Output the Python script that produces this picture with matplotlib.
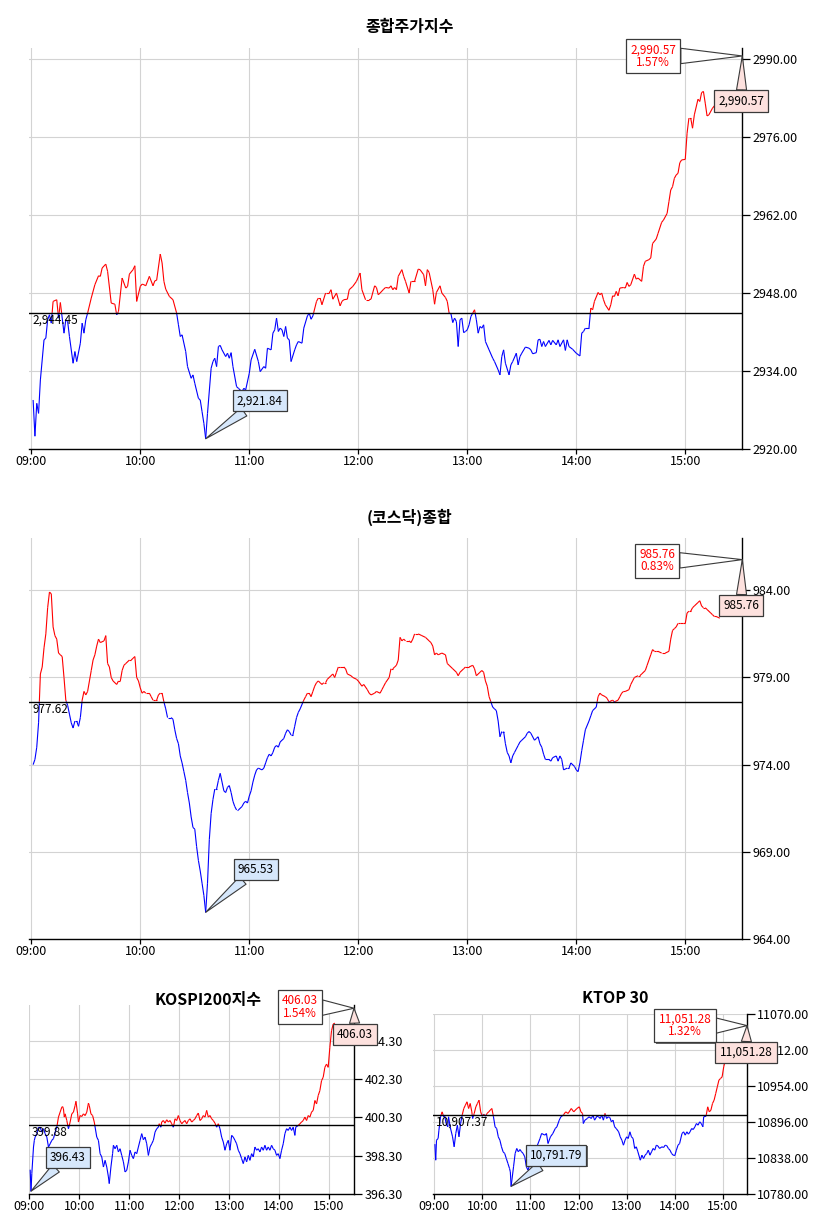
import matplotlib
matplotlib.use('Agg')
import matplotlib.pyplot as plt
import matplotlib.patheffects as pe
from matplotlib.collections import LineCollection

plt.rcParams['font.family'] = ['Noto Sans CJK KR', 'DejaVu Sans']

# ---- data (minutes after 09:00, index value) ----
hour_ticks = [0, 60, 120, 180, 240, 300, 360]
hour_labels = ['09:00', '10:00', '11:00', '12:00', '13:00', '14:00', '15:00']

kospi_name = '종합주가지수'
kospi_prev = 2944.45
kospi_close = 2990.57
kospi_yticks = [2920, 2934, 2948, 2962, 2976, 2990]
kospi_pts = [
    (1, 2928.8), (2, 2922.3), (3, 2928.2), (4, 2926.4), (5, 2932.4), (7, 2939.6), (8, 2939.9),
    (9, 2943.2), (10, 2944.1), (11, 2942.6), (12, 2946.5), (14, 2946.8), (15, 2943.5), (16, 2946.3),
    (18, 2940.8), (19, 2943.2), (20, 2942.9), (21, 2940.2), (23, 2935.4), (24, 2937.5), (25, 2935.7),
    (27, 2939.0), (28, 2942.6), (29, 2940.8), (30, 2943.2), (31, 2944.4), (33, 2947.1), (35, 2949.5),
    (37, 2951.1), (38, 2951.0), (39, 2952.5), (41, 2953.2), (42, 2951.9), (44, 2946.2), (46, 2946.0),
    (47, 2944.1), (48, 2944.7), (50, 2950.7), (52, 2948.9), (53, 2949.2), (54, 2951.4), (56, 2952.2),
    (57, 2952.9), (58, 2946.5), (60, 2949.2), (61, 2949.6), (62, 2949.5), (63, 2949.3), (65, 2951.0),
    (67, 2949.3), (68, 2950.2), (69, 2950.3), (71, 2955.0), (72, 2953.4), (73, 2950.1), (74, 2948.7),
    (76, 2947.4), (78, 2946.8), (80, 2944.4), (81, 2942.3), (82, 2940.2), (83, 2940.5), (85, 2937.5),
    (86, 2934.8), (88, 2932.7), (89, 2933.3), (90, 2931.8), (92, 2929.1), (93, 2928.8), (94, 2926.7),
    (95, 2924.6), (96, 2921.84), (97, 2926.4), (99, 2934.5), (100, 2935.7), (101, 2936.3), (102, 2934.8),
    (103, 2938.4), (104, 2938.6), (105, 2937.8), (107, 2936.6), (108, 2937.2), (109, 2936.3), (110, 2937.3),
    (111, 2934.8), (113, 2931.2), (114, 2930.9), (116, 2930.3), (117, 2930.9), (118, 2930.6), (120, 2933.6),
    (121, 2936.0), (123, 2937.9), (125, 2935.7), (126, 2933.9), (128, 2934.8), (129, 2934.5), (130, 2938.1),
    (132, 2937.8), (133, 2940.8), (134, 2941.4), (135, 2943.5), (136, 2941.1), (137, 2941.7), (138, 2941.4),
    (139, 2940.2), (140, 2942.0), (141, 2939.9), (142, 2939.6), (143, 2935.7), (145, 2937.8), (146, 2938.7),
    (147, 2939.3), (149, 2939.0), (150, 2941.7), (152, 2943.9), (153, 2944.4), (154, 2943.3), (155, 2943.9),
    (157, 2946.5), (158, 2947.1), (159, 2947.1), (160, 2945.9), (162, 2948.0), (164, 2948.0), (165, 2948.6),
    (166, 2946.9), (168, 2948.0), (170, 2945.7), (171, 2946.5), (172, 2946.8), (174, 2946.9), (175, 2948.6),
    (177, 2949.2), (179, 2950.1), (181, 2951.6), (182, 2948.6), (184, 2946.8), (186, 2946.8), (187, 2946.9),
    (189, 2949.3), (190, 2949.0), (191, 2947.7), (192, 2948.0), (194, 2948.7), (195, 2949.0), (197, 2948.9),
    (198, 2949.3), (199, 2948.6), (200, 2949.0), (201, 2948.6), (202, 2951.0), (204, 2952.2), (205, 2951.0),
    (206, 2950.1), (208, 2948.0), (209, 2950.1), (211, 2950.1), (213, 2952.3), (214, 2952.2), (216, 2951.3),
    (217, 2949.3), (218, 2952.2), (219, 2951.7), (221, 2948.6), (222, 2946.0), (223, 2948.1), (225, 2949.3),
    (226, 2948.0), (228, 2947.2), (229, 2946.5), (230, 2944.4), (231, 2944.3), (232, 2942.7), (233, 2943.5),
    (234, 2942.9), (235, 2938.4), (236, 2943.2), (237, 2943.5), (238, 2940.9), (239, 2941.1), (240, 2941.4),
    (241, 2942.3), (242, 2943.8), (243, 2944.4), (244, 2945.0), (245, 2943.2), (246, 2940.8), (247, 2942.0),
    (248, 2941.7), (249, 2942.3), (250, 2939.3), (252, 2937.8), (254, 2936.3), (255, 2935.7), (257, 2934.2),
    (258, 2933.3), (259, 2936.6), (260, 2937.8), (261, 2935.4), (263, 2933.3), (264, 2935.1), (265, 2935.7),
    (267, 2937.2), (268, 2935.1), (269, 2936.6), (270, 2937.2), (272, 2938.3), (274, 2938.1), (275, 2937.8),
    (276, 2937.1), (278, 2937.3), (279, 2939.6), (280, 2939.7), (281, 2938.4), (282, 2939.3), (283, 2938.4),
    (285, 2939.5), (286, 2938.7), (287, 2939.5), (289, 2938.7), (290, 2939.6), (291, 2938.4), (293, 2939.6),
    (294, 2937.7), (295, 2939.6), (296, 2938.4), (298, 2937.9), (300, 2937.2), (302, 2936.7), (303, 2940.8),
    (304, 2941.1), (305, 2941.7), (307, 2941.7), (308, 2945.3), (309, 2945.0), (310, 2946.5), (312, 2948.1),
    (313, 2947.7), (314, 2948.0), (315, 2946.8), (316, 2945.9), (318, 2944.9), (319, 2945.9), (320, 2947.5),
    (321, 2947.4), (322, 2948.3), (323, 2947.5), (324, 2948.9), (326, 2949.0), (327, 2948.9), (328, 2949.9),
    (329, 2949.2), (330, 2949.5), (332, 2951.4), (333, 2950.5), (334, 2950.7), (336, 2950.1), (337, 2952.8),
    (338, 2953.7), (340, 2954.0), (341, 2954.3), (342, 2956.9), (344, 2957.7), (345, 2958.7), (347, 2960.7),
    (348, 2961.1), (350, 2962.3), (351, 2964.4), (352, 2966.5), (353, 2967.1), (354, 2968.6), (355, 2969.2),
    (356, 2969.5), (357, 2971.4), (358, 2971.9), (360, 2972.0), (361, 2976.7), (362, 2979.4), (363, 2979.4),
    (364, 2977.6), (365, 2980.0), (367, 2982.8), (368, 2982.4), (369, 2984.0), (370, 2984.2), (371, 2982.1),
    (372, 2979.8), (373, 2980.0), (375, 2981.2), (377, 2982.0), (379, 2982.6),
]

kosdaq_name = '(코스닥)종합'
kosdaq_prev = 977.62
kosdaq_close = 985.76
kosdaq_yticks = [964, 969, 974, 979, 984]
kosdaq_pts = [
    (1, 974.0), (2, 974.3), (3, 975.0), (4, 976.4), (5, 979.2), (6, 979.6), (7, 980.7), (8, 981.5),
    (9, 983.0), (10, 983.9), (11, 983.8), (12, 981.9), (13, 981.4), (14, 981.2), (15, 980.4), (16, 980.3),
    (17, 980.2), (18, 979.0), (19, 977.7), (20, 977.4), (21, 976.9), (22, 976.4), (23, 976.1), (24, 976.5),
    (25, 976.5), (26, 976.2), (27, 976.7), (28, 977.7), (29, 978.2), (30, 978.0), (31, 978.2), (32, 978.8),
    (33, 979.4), (34, 980.0), (35, 980.3), (36, 980.8), (37, 981.2), (38, 981.0), (40, 981.1), (41, 981.4),
    (42, 979.8), (43, 979.6), (44, 979.0), (45, 978.8), (47, 978.6), (48, 978.8), (49, 978.8), (50, 979.4),
    (51, 979.7), (52, 979.8), (54, 980.0), (55, 980.0), (56, 980.1), (57, 980.2), (58, 979.0), (59, 978.8),
    (60, 978.4), (61, 978.1), (62, 978.2), (63, 978.1), (65, 978.1), (66, 977.9), (67, 977.7), (68, 977.7),
    (69, 977.7), (70, 978.0), (71, 978.1), (72, 978.1), (73, 977.6), (74, 977.2), (75, 976.7), (77, 976.7),
    (78, 976.6), (79, 976.0), (80, 975.5), (81, 975.2), (82, 974.5), (83, 974.1), (84, 973.6), (85, 973.1),
    (86, 972.4), (87, 971.8), (88, 971.0), (89, 970.4), (90, 970.3), (91, 969.3), (92, 968.5), (93, 967.9),
    (94, 967.2), (95, 966.5), (96, 965.53), (97, 967.2), (98, 969.7), (99, 971.2), (100, 972.0), (101, 972.6),
    (102, 972.6), (103, 973.1), (104, 973.5), (105, 973.0), (106, 972.5), (107, 972.4), (108, 972.7),
    (109, 972.8), (110, 972.4), (111, 971.9), (112, 971.6), (113, 971.4), (114, 971.4), (116, 971.6),
    (117, 971.8), (118, 971.9), (119, 971.8), (120, 972.2), (121, 972.5), (122, 973.0), (123, 973.4),
    (124, 973.7), (125, 973.8), (127, 973.7), (128, 973.8), (129, 974.1), (130, 974.4), (131, 974.6),
    (132, 974.5), (133, 974.7), (134, 975.0), (135, 975.1), (136, 975.0), (137, 975.3), (139, 975.5),
    (140, 975.8), (141, 976.0), (142, 975.9), (143, 975.7), (144, 975.7), (145, 976.2), (146, 976.7),
    (147, 977.0), (148, 977.2), (150, 977.7), (151, 977.9), (152, 978.1), (153, 978.1), (154, 977.9),
    (155, 978.2), (156, 978.5), (157, 978.7), (158, 978.8), (159, 978.7), (160, 978.6), (161, 978.7),
    (162, 978.7), (163, 978.9), (165, 979.1), (166, 979.2), (167, 979.0), (168, 979.3), (169, 979.6),
    (170, 979.6), (172, 979.6), (173, 979.5), (174, 979.2), (176, 979.1), (177, 979.0), (179, 978.9),
    (180, 978.8), (182, 978.5), (183, 978.6), (185, 978.3), (186, 978.1), (187, 978.0), (189, 978.1),
    (190, 978.2), (192, 978.1), (193, 978.3), (194, 978.5), (195, 978.7), (197, 979.0), (198, 979.5),
    (199, 979.5), (200, 979.6), (201, 979.7), (202, 980.0), (203, 981.3), (204, 981.1), (205, 981.2),
    (206, 981.1), (208, 981.1), (209, 981.0), (210, 981.2), (211, 981.5), (213, 981.5), (215, 981.4),
    (217, 981.3), (219, 981.1), (220, 981.0), (221, 980.8), (222, 980.3), (223, 980.4), (224, 980.3),
    (226, 980.4), (228, 980.3), (229, 979.8), (230, 979.7), (232, 979.5), (234, 979.3), (235, 979.1),
    (236, 979.3), (238, 979.5), (239, 979.6), (241, 979.6), (243, 979.7), (244, 979.5), (245, 979.1),
    (247, 979.3), (248, 979.4), (249, 979.3), (250, 978.8), (251, 978.5), (252, 977.9), (253, 977.6),
    (254, 977.3), (255, 977.2), (256, 977.1), (257, 976.5), (258, 975.6), (259, 975.9), (260, 975.9),
    (261, 975.2), (262, 974.7), (263, 974.5), (264, 974.1), (265, 974.5), (266, 974.7), (267, 974.9),
    (268, 975.1), (269, 975.3), (270, 975.4), (272, 975.6), (273, 975.8), (274, 975.9), (275, 975.8),
    (277, 975.4), (278, 975.5), (279, 975.6), (280, 975.2), (281, 975.0), (282, 974.6), (283, 974.3),
    (285, 974.3), (286, 974.2), (287, 974.4), (289, 974.5), (290, 974.2), (291, 974.5), (292, 974.3),
    (293, 973.7), (295, 973.8), (296, 973.8), (297, 974.1), (299, 973.9), (300, 973.7), (301, 973.6),
    (302, 974.1), (303, 974.8), (304, 975.4), (305, 976.0), (307, 976.5), (308, 976.8), (309, 977.1),
    (311, 977.3), (312, 977.9), (313, 978.1), (314, 978.0), (316, 977.9), (317, 977.8), (318, 977.6),
    (320, 977.7), (321, 977.6), (323, 977.7), (324, 977.9), (325, 978.1), (326, 978.2), (327, 978.2),
    (329, 978.3), (330, 978.6), (331, 978.8), (332, 979.0), (334, 979.1), (335, 979.1), (336, 979.2),
    (338, 979.4), (339, 979.7), (340, 980.0), (341, 980.3), (342, 980.6), (343, 980.5), (344, 980.5),
    (345, 980.5), (347, 980.4), (349, 980.4), (351, 980.5), (352, 981.2), (353, 981.7), (354, 981.8),
    (355, 981.9), (356, 982.1), (357, 982.1), (359, 982.1), (360, 982.1), (361, 982.7), (362, 982.8),
    (363, 982.8), (364, 983.0), (365, 983.1), (367, 983.3), (368, 983.4), (369, 983.1), (370, 983.0),
    (371, 983.0), (372, 982.9), (374, 982.7), (375, 982.6), (376, 982.5), (377, 982.5), (379, 982.4),
]

k200_name = 'KOSPI200지수'
k200_prev = 399.88
k200_close = 406.03
k200_yticks = [396.3, 398.3, 400.3, 402.3, 404.3]
k200_pts = [
    (1, 397.56), (2, 396.43), (3, 397.36), (5, 398.75), (6, 399.10), (7, 399.27), (9, 399.45),
    (11, 399.79), (13, 399.79), (15, 399.53), (17, 399.71), (19, 399.45), (21, 399.27), (23, 398.75),
    (25, 398.92), (27, 399.10), (29, 399.19), (31, 399.53), (33, 399.79), (35, 400.32), (37, 400.58),
    (39, 400.84), (40, 400.87), (41, 400.75), (42, 400.32), (43, 400.49), (45, 400.14), (47, 399.71),
    (49, 400.06), (51, 400.49), (53, 400.58), (55, 400.93), (56, 401.15), (58, 400.49), (59, 400.06),
    (61, 400.40), (63, 400.35), (65, 400.49), (67, 400.40), (69, 400.58), (71, 401.05), (72, 400.93),
    (74, 400.49), (76, 400.40), (78, 400.06), (81, 399.27), (83, 399.10), (85, 398.40), (87, 398.23),
    (89, 397.70), (91, 398.05), (93, 397.70), (95, 397.18), (96, 396.83), (98, 397.70), (100, 398.40),
    (101, 398.84), (103, 398.66), (105, 398.84), (107, 398.49), (109, 398.66), (111, 398.31), (113, 397.97),
    (115, 397.44), (117, 397.53), (119, 397.97), (121, 398.58), (123, 398.31), (125, 398.14), (127, 398.49),
    (129, 398.40), (131, 398.75), (133, 399.10), (135, 399.45), (137, 399.13), (139, 399.27), (141, 398.92),
    (143, 398.31), (145, 398.75), (147, 398.92), (149, 399.10), (151, 399.53), (153, 399.71), (155, 399.79),
    (156, 399.97), (158, 399.79), (159, 400.06), (161, 400.14), (163, 400.00), (165, 400.18), (167, 400.06),
    (169, 400.14), (171, 399.97), (173, 399.79), (175, 400.23), (177, 400.14), (179, 400.40), (181, 400.14),
    (183, 399.97), (185, 400.06), (187, 400.14), (189, 399.97), (191, 400.14), (193, 400.23), (195, 400.06),
    (197, 400.14), (199, 400.23), (201, 400.40), (203, 400.53), (205, 400.14), (207, 400.23), (209, 400.40),
    (211, 400.32), (213, 400.67), (215, 400.32), (217, 400.40), (219, 400.23), (221, 400.14), (223, 400.00),
    (225, 399.79), (227, 399.97), (229, 399.71), (231, 399.27), (233, 399.01), (235, 398.58), (237, 398.92),
    (239, 399.10), (241, 398.58), (243, 399.36), (245, 399.27), (247, 399.10), (249, 398.92), (251, 398.58),
    (253, 398.40), (255, 398.14), (257, 397.88), (259, 398.23), (261, 397.97), (263, 398.31), (265, 398.05),
    (267, 398.40), (269, 398.23), (271, 398.75), (273, 398.58), (275, 398.66), (277, 398.49), (279, 398.75),
    (281, 398.58), (283, 398.84), (285, 398.58), (287, 398.75), (289, 398.58), (291, 398.84), (293, 398.66),
    (295, 398.58), (297, 398.31), (299, 398.40), (301, 398.14), (303, 398.58), (305, 398.92), (307, 399.45),
    (309, 399.71), (311, 399.62), (313, 399.79), (315, 399.62), (317, 399.79), (319, 399.36), (320, 399.79),
    (323, 399.88), (325, 399.97), (327, 400.06), (329, 400.14), (331, 400.32), (333, 400.14), (335, 400.40),
    (337, 400.32), (339, 400.58), (341, 400.67), (343, 401.19), (345, 401.01), (347, 401.45), (349, 401.71),
    (351, 402.23), (353, 402.41), (355, 402.93), (357, 403.10), (359, 402.93), (361, 403.98), (363, 404.85),
    (365, 405.20), (367, 405.25),
]

ktop_name = 'KTOP 30'
ktop_prev = 10907.37
ktop_close = 11051.28
ktop_yticks = [10780, 10838, 10896, 10954, 11012, 11070]
ktop_pts = [
    (1, 10860.0), (2, 10834.1), (3, 10866.4), (5, 10869.1), (6, 10882.5), (8, 10904.1), (10, 10912.1),
    (12, 10904.1), (13, 10906.8), (15, 10893.3), (17, 10887.9), (18, 10904.1), (20, 10887.9), (23, 10871.8),
    (25, 10855.7), (27, 10877.2), (29, 10890.6), (31, 10871.8), (33, 10893.3), (35, 10906.8), (37, 10917.5),
    (39, 10922.9), (41, 10928.3), (43, 10917.5), (45, 10925.6), (47, 10912.1), (48, 10901.4), (50, 10909.5),
    (52, 10920.2), (54, 10925.6), (56, 10931.0), (58, 10912.1), (60, 10905.1), (62, 10908.4), (64, 10905.1),
    (66, 10909.5), (68, 10912.1), (70, 10914.8), (72, 10917.5), (74, 10904.1), (76, 10887.9), (78, 10885.2),
    (80, 10871.8), (82, 10866.4), (84, 10855.7), (86, 10847.6), (88, 10844.9), (90, 10836.8), (92, 10828.8),
    (94, 10820.7), (95, 10815.3), (96, 10791.79), (99, 10823.4), (101, 10844.9), (103, 10853.0),
    (105, 10847.6), (107, 10851.3), (109, 10847.6), (111, 10844.9), (113, 10839.5), (115, 10823.4),
    (117, 10818.0), (119, 10826.1), (124, 10844.9), (128, 10855.7), (132, 10869.1), (134, 10877.2),
    (138, 10874.5), (140, 10877.2), (142, 10861.0), (145, 10871.8), (148, 10877.2), (151, 10885.2),
    (153, 10887.9), (156, 10898.7), (158, 10904.1), (161, 10906.8), (164, 10912.1), (167, 10909.5),
    (171, 10917.5), (174, 10912.1), (178, 10917.5), (181, 10920.2), (183, 10912.1), (185, 10909.5),
    (186, 10893.3), (188, 10898.7), (191, 10901.4), (193, 10904.1), (196, 10901.4), (198, 10906.8),
    (200, 10898.7), (203, 10905.1), (205, 10904.1), (207, 10901.4), (209, 10906.8), (211, 10898.7),
    (213, 10909.5), (215, 10901.4), (217, 10904.1), (219, 10903.0), (221, 10896.0), (223, 10898.7),
    (225, 10887.9), (227, 10885.2), (230, 10879.9), (232, 10871.8), (234, 10866.4), (236, 10858.3),
    (238, 10866.4), (240, 10871.8), (242, 10869.1), (244, 10879.9), (246, 10871.8), (248, 10869.1),
    (250, 10853.0), (252, 10855.7), (254, 10847.6), (257, 10834.1), (259, 10842.2), (261, 10836.8),
    (263, 10842.2), (265, 10844.9), (267, 10850.3), (269, 10842.2), (271, 10847.6), (273, 10853.0),
    (275, 10850.3), (277, 10858.3), (279, 10857.0), (281, 10853.0), (284, 10855.7), (286, 10854.5),
    (288, 10858.3), (290, 10857.5), (292, 10853.0), (294, 10850.3), (296, 10844.9), (298, 10842.2),
    (300, 10841.5), (302, 10850.3), (304, 10858.3), (306, 10861.0), (309, 10877.2), (311, 10879.9),
    (313, 10874.5), (315, 10879.9), (317, 10876.1), (319, 10879.9), (321, 10885.2), (323, 10883.6),
    (325, 10887.9), (327, 10893.3), (329, 10890.6), (331, 10896.0), (333, 10893.3), (335, 10887.9),
    (336, 10904.1), (339, 10905.1), (341, 10920.2), (343, 10912.1), (345, 10914.8), (347, 10925.6),
    (349, 10931.0), (351, 10941.7), (353, 10952.5), (355, 10963.3), (357, 10965.9), (359, 10968.6),
    (361, 10984.8), (363, 10995.5), (366, 11005.0), (370, 11015.0),
]

UP = '#ff0000'
DOWN = '#0000ff'


def two_tone(ax, pts, ref):
    # split the price line where it crosses the previous close
    segs, cols = [], []
    for (x0, y0), (x1, y1) in zip(pts[:-1], pts[1:]):
        if (y0 - ref) * (y1 - ref) < 0:
            xc = x0 + (ref - y0) * (x1 - x0) / (y1 - y0)
            segs.append([(x0, y0), (xc, ref)])
            cols.append(UP if y0 > ref else DOWN)
            segs.append([(xc, ref), (x1, y1)])
            cols.append(UP if y1 > ref else DOWN)
        else:
            segs.append([(x0, y0), (x1, y1)])
            cols.append(UP if (y0 + y1) / 2 >= ref else DOWN)
    ax.add_collection(LineCollection(segs, colors=cols, linewidths=0.8, zorder=3))


def callout(ax, text, xy, xycoords, offset, face, tail, color='black'):
    ann = ax.annotate(
        text, xy=xy, xycoords=xycoords, xytext=offset, textcoords='offset pixels',
        ha='center', va='center', fontsize=8.5, color=color, linespacing=0.95,
        annotation_clip=False, zorder=10,
        bbox=dict(boxstyle='square,pad=0.35', fc=face, ec='#3a3a3a', lw=0.9),
        arrowprops=dict(arrowstyle=f'wedge,tail_width={tail},shrink_factor=0.5',
                        fc=face, ec='#3a3a3a', lw=0.8, shrinkA=0, shrinkB=0),
    )
    ann.get_bbox_patch().set_path_effects(
        [pe.SimplePatchShadow(offset=(0.8, -0.8), shadow_rgbFace='#666666', alpha=1.0), pe.Normal()])
    ann.arrow_patch.set_clip_on(False)
    return ann


def panel(ax, pts, prev, close, yticks, ylim, xlim, tip_off, pink_off, low_off):
    ax.set_xlim(*xlim)
    ax.set_ylim(*ylim)
    ax.grid(True, color='#d3d3d3', linewidth=0.8)
    ax.set_axisbelow(True)
    ax.spines[['top', 'left']].set_visible(False)
    ax.spines[['right', 'bottom']].set_linewidth(1.0)
    ax.yaxis.tick_right()
    ax.set_yticks(yticks)
    ax.set_yticklabels([f'{y:.2f}' for y in yticks])
    ax.set_xticks(hour_ticks)
    ax.set_xticklabels(hour_labels)
    ax.tick_params(axis='y', direction='out', length=5.5, width=0.9, labelsize=9, pad=2)
    ax.tick_params(axis='x', direction='out', length=3.5, width=0.9, labelsize=9, pad=1)

    ax.axhline(prev, color='black', linewidth=1.0, zorder=4)
    ax.annotate(f'{prev:,.2f}', xy=(0, prev), xycoords=('axes fraction', 'data'),
                xytext=(3, -1), textcoords='offset pixels', ha='left', va='top',
                fontsize=8.5, zorder=5)

    two_tone(ax, pts, prev)

    pct = (close / prev - 1) * 100
    callout(ax, f'{close:,.2f}\n{pct:.2f}%', (1, close), ('axes fraction', 'data'),
            tip_off, 'white', 1.3, color='#ff0000')
    callout(ax, f'{close:,.2f}', (1, close), ('axes fraction', 'data'), pink_off, '#fde1de', 0.85)
    low = min(pts, key=lambda p: p[1])
    callout(ax, f'{low[1]:,.2f}', low, 'data', low_off, '#d6e7fb', 0.85)


W, H = 833, 1220
fig = plt.figure(figsize=(W / 100, H / 100), dpi=100)


def box(x0, y0, x1, y1):
    return [x0 / W, 1 - y1 / H, (x1 - x0) / W, (y1 - y0) / H]


ax1 = fig.add_axes(box(29.3, 48, 742.3, 449))
panel(ax1, kospi_pts, kospi_prev, kospi_close, kospi_yticks, (2920, 2992), (-1.1, 391.4),
      (-89, 0), (-1, -45), (54, 38))

ax2 = fig.add_axes(box(29.3, 538, 742.3, 939))
panel(ax2, kosdaq_pts, kosdaq_prev, kosdaq_close, kosdaq_yticks, (964, 987), (-1.1, 391.4),
      (-85, -1), (-1, -46), (50, 43))

ax3 = fig.add_axes(box(28.5, 1005, 354, 1193.7))
panel(ax3, k200_pts, k200_prev, k200_close, k200_yticks, (396.3, 406.2), (-1, 390),
      (-54, 1), (1, -26), (37, 34))

ax4 = fig.add_axes(box(432.5, 1014, 747, 1193.7))
panel(ax4, ktop_pts, ktop_prev, ktop_close, ktop_yticks, (10780, 11070), (-2, 390),
      (-62, 0), (-1, -27), (45, 31))

title_kw = dict(ha='center', va='center', fontsize=11.5, fontweight='bold')
fig.text(410 / W, 1 - 27 / H, kospi_name, **title_kw)
fig.text(409 / W, 1 - 517 / H, kosdaq_name, **title_kw)
fig.text(208 / W, 1 - 1000 / H, k200_name, **title_kw)
fig.text(615 / W, 1 - 998 / H, ktop_name, **title_kw)

fig.savefig('out.png', dpi=100)
